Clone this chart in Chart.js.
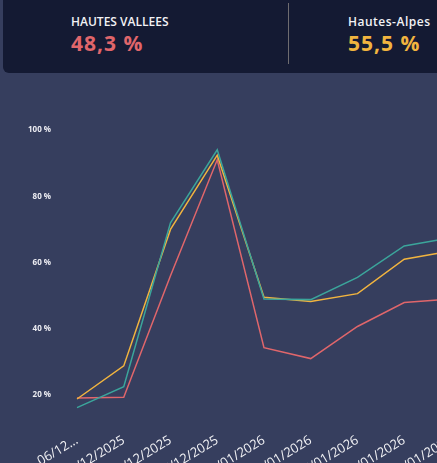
<!DOCTYPE html>
<html>
<head>
<meta charset="utf-8">
<script src="https://cdn.jsdelivr.net/npm/chart.js@4"></script>
<style>
  html, body { margin: 0; padding: 0; }
  body { width: 437px; height: 463px; overflow: hidden; background: #363e5e; position: relative; font-family: "Open Sans", "Noto Sans", sans-serif; }
  #chartBox { position: absolute; left: 0; top: 0; width: 480px; height: 500px; }
  .header { position: absolute; left: 3px; top: -10px; width: 520px; height: 83px; background: #141a33; border-radius: 6px; }
  .divider { position: absolute; left: 288px; top: 3px; width: 1px; height: 61px; background: #6e6c70; }
  .kpi { position: absolute; }
  .kpi .title { color: #f2f2f5; font-size: 12px; font-weight: 600; white-space: nowrap; line-height: 16px; }
  .kpi .val { font-size: 21px; font-weight: 700; margin-top: 1px; white-space: nowrap; letter-spacing: 1px; line-height: 24px; }
</style>
</head>
<body>
<div id="chartBox"><canvas id="myChart" width="480" height="500"></canvas></div>
<div class="header"></div>
<div class="divider"></div>
<div class="kpi" style="left:71px; top:14px;">
  <div class="title">HAUTES VALLEES</div>
  <div class="val" style="color:#e0666b;">48,3 %</div>
</div>
<div class="kpi" style="left:348px; top:14px;">
  <div class="title" style="letter-spacing:0.5px;">Hautes-Alpes</div>
  <div class="val" style="color:#f1b43f;">55,5 %</div>
</div>
<script>
// données
var labels = ['06/12...', '13/12/2025', '20/12/2025', '27/12/2025', '03/01/2026', '10/01/2026', '17/01/2026', '24/01/2026', '31/01/2026'];
var redValues = [19.1, 19.3, 56, 91, 34.3, 31, 40.7, 47.9, 49.0];
var yellowValues = [18.8, 28.8, 70, 92.4, 49.5, 48.2, 50.6, 61, 63.5];
var tealValues = [16.2, 22.5, 72, 94, 49, 48.8, 55.5, 65, 67.5];
var yTicks = [20, 40, 60, 80, 100];

function makeSet(name, data, color) {
    return {
        label: name,
        data: data,
        borderColor: color,
        backgroundColor: color,
        borderWidth: 1.5,
        pointRadius: 0,
        tension: 0,
        fill: false
    };
}

var ctx = document.getElementById('myChart').getContext('2d');
var myChart = new Chart(ctx, {
    type: 'line',
    data: {
        labels: labels,
        datasets: [
            makeSet('Teal', tealValues, '#3ba59b'),
            makeSet('Hautes-Alpes', yellowValues, '#f1b43f'),
            makeSet('HAUTES VALLEES', redValues, '#e0666b')
        ]
    },
    options: {
        responsive: false,
        animation: false,
        layout: { padding: { top: 130, right: 13, left: 0, bottom: 0 } },
        plugins: { legend: { display: false }, tooltip: { enabled: false } },
        scales: {
            x: {
                offset: false,
                grid: { display: false, drawTicks: false },
                border: { display: false },
                ticks: {
                    color: '#f2f2f5',
                    font: { family: 'Open Sans', size: 13 },
                    minRotation: 31,
                    maxRotation: 31,
                    autoSkip: false,
                    padding: 21
                },
                afterFit: function (s) { s.height = 500 - 411.6; }
            },
            y: {
                min: 15,
                max: 100,
                grid: { display: false, drawTicks: false },
                border: { display: false },
                afterBuildTicks: function (axis) {
                    axis.ticks = yTicks.map(function (v) { return { value: v }; });
                },
                ticks: {
                    color: '#ececf2',
                    font: { family: 'Open Sans', size: 8, weight: 'bold' },
                    padding: 26,
                    callback: function (v) { return v + ' %'; }
                },
                afterFit: function (s) { s.width = 77; }
            }
        }
    }
});
</script>
</body>
</html>
